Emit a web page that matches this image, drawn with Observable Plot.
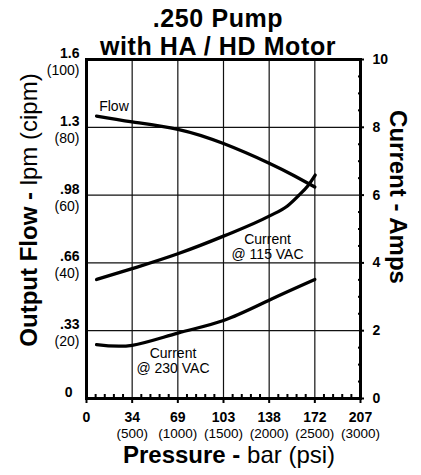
<!DOCTYPE html>
<html>
<head>
<meta charset="utf-8">
<script src="https://cdn.jsdelivr.net/npm/d3@7"></script>
<script src="https://cdn.jsdelivr.net/npm/@observablehq/plot@0.6"></script>
<style>
  html, body { margin: 0; padding: 0; background: white; }
  #wrap { position: relative; width: 421px; height: 475px; font-family: "Liberation Sans", Arial, sans-serif; color: black; }
  #wrap svg { position: absolute; left: 0; top: 0; }
  .lbl { position: absolute; white-space: nowrap; line-height: 1; }
</style>
</head>
<body>
<div id="wrap">
  <div class="lbl" style="left:218px; top:5.8px; transform:translateX(-50%); font-weight:bold; font-size:25px; letter-spacing:0.6px;">.250 Pump</div>
  <div class="lbl" style="left:218px; top:33.8px; transform:translateX(-50%); font-weight:bold; font-size:25px; letter-spacing:0.6px;">with HA / HD Motor</div>
  <div class="lbl" style="left:29px; top:210px; transform:translate(-50%,-50%) rotate(-90deg); font-size:24px;"><b>Output Flow -</b> lpm (cipm)</div>
  <div class="lbl" style="left:398px; top:197px; transform:translate(-50%,-50%) rotate(90deg); font-size:24px; font-weight:bold;">Current - Amps</div>
  <div class="lbl" style="left:229px; top:455px; transform:translate(-50%,-50%); font-size:24px;"><b>Pressure -</b> bar (psi)</div>
</div>
<script>
// Pressure axis (psi) with bar labels
const psiTicks = [0, 500, 1000, 1500, 2000, 2500, 3000];
const barLabels = ["0", "34", "69", "103", "138", "172", "207"];
const psiLabels = ["", "(500)", "(1000)", "(1500)", "(2000)", "(2500)", "(3000)"];
const psiMinor = d3.range(100, 3000, 100).filter(d => d % 500 !== 0);

// Flow axis (cipm) with lpm labels
const cipmTicks = [20, 40, 60, 80, 100];
const lpmLabels = [".33", ".66", ".98", "1.3", "1.6"];
const cipmLabels = ["(20)", "(40)", "(60)", "(80)", "(100)"];

// Current axis (amps)
const ampTicks = [0, 2, 4, 6, 8, 10];
const ampMinor = d3.range(0.5, 10, 0.5).filter(d => d % 2 !== 0);

// Series
const flowPsi  = [110, 500, 1000, 1500, 2000, 2274, 2500];
const flowCipm = [83.3, 81.6, 79.4, 75.2, 69.4, 65.7, 62.4];

const cur115Psi  = [110, 500, 1000, 1500, 2000, 2200, 2320, 2420, 2504];
const cur115Amps = [3.51, 3.83, 4.27, 4.79, 5.38, 5.68, 5.98, 6.26, 6.59];

const cur230Psi  = [110, 500, 1000, 1500, 2000, 2500];
const cur230Amps = [1.59, 1.57, 1.93, 2.30, 2.90, 3.51];

// Annotations (psi, cipm-scale value)
const notePsi   = [301, 1982, 947];
const noteValue = [86.3, 44.7, 11.2];
const noteText  = ["Flow", "Current\n@ 115 VAC", "Current\n@ 230 VAC"];

const ampsToCipm = a => a * 10;

const flow = flowPsi.map((p, i) => ({psi: p, v: flowCipm[i]}));
const c115 = cur115Psi.map((p, i) => ({psi: p, v: ampsToCipm(cur115Amps[i])}));
const c230 = cur230Psi.map((p, i) => ({psi: p, v: ampsToCipm(cur230Amps[i])}));
const notes = notePsi.map((p, i) => ({psi: p, v: noteValue[i], t: noteText[i]}));

const font = "Liberation Sans, Arial, sans-serif";

const chart = Plot.plot({
  width: 421,
  height: 475,
  marginLeft: 86,
  marginRight: 61,
  marginTop: 59,
  marginBottom: 77,
  style: {fontFamily: font, fontSize: "14px", color: "black", background: "transparent", overflow: "visible"},
  x: {domain: [0, 3000], label: null},
  y: {domain: [0, 100], label: null},
  marks: [
    Plot.gridX(psiTicks.slice(1, -1), {stroke: "#111", strokeOpacity: 1, strokeWidth: 1.2}),
    Plot.gridY(cipmTicks.slice(0, -1), {stroke: "#111", strokeOpacity: 1, strokeWidth: 1.2}),
    // bottom minor ticks (inward)
    Plot.axisX({anchor: "bottom", ticks: psiMinor, tickSize: -4, tickFormat: () => "", strokeWidth: 2, label: null}),
    // bottom major ticks + bar labels
    Plot.axisX({anchor: "bottom", ticks: psiTicks, tickSize: 5, tickPadding: 9, strokeWidth: 2,
      tickFormat: d => barLabels[psiTicks.indexOf(d)], fontWeight: "bold", fontSize: 14, label: null}),
    // psi labels
    Plot.axisX({anchor: "bottom", ticks: psiTicks, tickSize: 0, tickPadding: 30,
      tickFormat: d => psiLabels[psiTicks.indexOf(d)], fontSize: 13.5, label: null}),
    // left lpm labels (bold, above line)
    Plot.axisY({anchor: "left", ticks: cipmTicks, tickSize: 0, tickPadding: 7, dy: -6,
      tickFormat: d => lpmLabels[cipmTicks.indexOf(d)], fontWeight: "bold", fontSize: 14, label: null}),
    // left cipm labels (below line)
    Plot.axisY({anchor: "left", ticks: cipmTicks, tickSize: 0, tickPadding: 7, dy: 11,
      tickFormat: d => cipmLabels[cipmTicks.indexOf(d)], fontSize: 14, label: null}),
    // left zero
    Plot.axisY({anchor: "left", ticks: [0], tickSize: 0, tickPadding: 14, dy: -6,
      tickFormat: () => "0", fontWeight: "bold", fontSize: 14, label: null}),
    // right minor ticks (inward)
    Plot.axisY({anchor: "right", ticks: ampMinor.map(ampsToCipm), tickSize: -3, tickFormat: () => "", strokeWidth: 2, label: null}),
    // right major ticks + amp labels
    Plot.axisY({anchor: "right", ticks: ampTicks.map(ampsToCipm), tickSize: 3, tickPadding: 9, strokeWidth: 2,
      tickFormat: d => String(d / 10), fontWeight: "bold", fontSize: 14, label: null}),
    Plot.frame({stroke: "black", strokeWidth: 3}),
    Plot.line(flow, {x: "psi", y: "v", curve: "natural", stroke: "black", strokeWidth: 3.3}),
    Plot.line(c115, {x: "psi", y: "v", curve: "monotone-x", stroke: "black", strokeWidth: 3.3}),
    Plot.line(c230, {x: "psi", y: "v", curve: "natural", stroke: "black", strokeWidth: 3.3}),
    Plot.text(notes, {x: "psi", y: "v", text: "t", fontSize: 14, lineHeight: 1.07, fill: "black", fontFamily: font})
  ]
});
document.getElementById("wrap").prepend(chart);
</script>
</body>
</html>
